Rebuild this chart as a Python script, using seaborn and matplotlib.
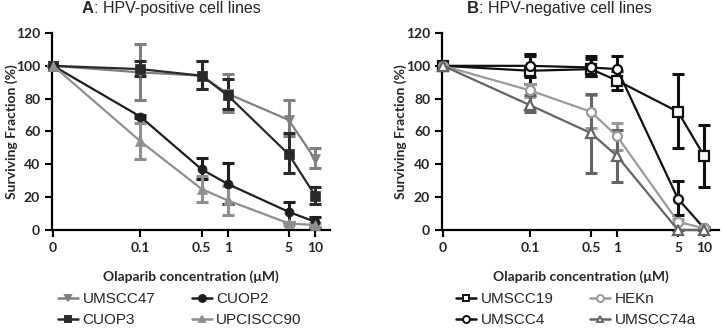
import numpy as np
import pandas as pd
import matplotlib
matplotlib.use("Agg")
import matplotlib.pyplot as plt
from matplotlib.lines import Line2D
import seaborn as sns

# concentrations (uM); 0 is drawn one decade left of 0.1 on the log axis
conc = [0, 0.1, 0.5, 1, 5, 10]
conc_labels = ["0", "0.1", "0.5", "1", "5", "10"]

# panel A: HPV-positive
umscc47 = [100, 96, 94, 83, 67, 43]
umscc47_lo = [100, 79, 86, 72, 57, 38]
umscc47_hi = [100, 113, 103, 95, 79, 50]
cuop3 = [100, 98, 94, 82, 46, 21]
cuop3_lo = [100, 94, 86, 74, 35, 16]
cuop3_hi = [100, 103, 103, 92, 59, 26]
cuop2 = [100, 69, 37, 28, 11, 5]
cuop2_lo = [100, 68, 31, 16, 5, 2]
cuop2_hi = [100, 70, 44, 41, 17, 8]
upciscc90 = [100, 54, 25, 18, 4, 3]
upciscc90_lo = [100, 43, 17, 9, 3, 2]
upciscc90_hi = [100, 65, 33, 27, 5, 4]

# panel B: HPV-negative
umscc19 = [100, 97, 98, 91, 72, 45]
umscc19_lo = [100, 89, 94, 85, 50, 26]
umscc19_hi = [100, 106, 104, 97, 95, 64]
umscc4 = [100, 100, 99, 98, 19, 1]
umscc4_lo = [100, 93, 94, 90, 9, 0]
umscc4_hi = [100, 107, 106, 106, 30, 2]
hekn = [100, 85, 72, 57, 5, 1]
hekn_lo = [100, 81, 62, 49, 4, 0]
hekn_hi = [100, 89, 82, 65, 7, 2]
umscc74a = [100, 76, 59, 45, 0, 0]
umscc74a_lo = [100, 72, 35, 29, 0, 0]
umscc74a_hi = [100, 82, 83, 61, 0, 0]

sns.set_style("ticks")
plt.rcParams["font.family"] = ["Lato", "DejaVu Sans"]

xpos = np.where(np.array(conc) == 0, 0.01, np.array(conc, dtype=float))

panelA = [
    ("UMSCC47", umscc47, umscc47_lo, umscc47_hi, "#808080", "v", True),
    ("CUOP3", cuop3, cuop3_lo, cuop3_hi, "#2a2a2a", "s", True),
    ("CUOP2", cuop2, cuop2_lo, cuop2_hi, "#1e1e1e", "o", True),
    ("UPCISCC90", upciscc90, upciscc90_lo, upciscc90_hi, "#8f8f8f", "^", True),
]
panelB = [
    ("UMSCC19", umscc19, umscc19_lo, umscc19_hi, "#111111", "s", False),
    ("UMSCC4", umscc4, umscc4_lo, umscc4_hi, "#111111", "o", False),
    ("HEKn", hekn, hekn_lo, hekn_hi, "#9a9a9a", "o", False),
    ("UMSCC74a", umscc74a, umscc74a_lo, umscc74a_hi, "#646464", "^", False),
]

fig = plt.figure(figsize=(7.22, 3.32), dpi=100)
axA = fig.add_axes([52 / 722, 1 - 230 / 332, 278 / 722, 197 / 332])
axB = fig.add_axes([442 / 722, 1 - 230 / 332, 277 / 722, 197 / 332])


def draw(ax, series, ylab_x):
    handles = []
    for name, mean, lo, hi, col, mk, filled in series:
        mean = np.array(mean, dtype=float)
        err = [mean - np.array(lo), np.array(hi) - mean]
        ax.errorbar(xpos, mean, yerr=err, fmt="none", ecolor=col,
                    elinewidth=2.2, capsize=4, capthick=2.2, clip_on=False, zorder=2)
        df = pd.DataFrame({"x": xpos, "y": mean})
        sns.lineplot(data=df, x="x", y="y", ax=ax, color=col, marker=mk,
                     markersize=6.5, linewidth=1.6,
                     markerfacecolor=col if filled else "white",
                     markeredgecolor=col, markeredgewidth=1.6 if not filled else 0.5,
                     clip_on=False, zorder=3)
        handles.append(Line2D([], [], color=col, marker=mk, markersize=5,
                              linewidth=1.8,
                              markerfacecolor=col if filled else "white",
                              markeredgecolor=col, markeredgewidth=1.4))
    ax.set_xscale("log")
    ax.set_xlim(0.0097, 14.8)
    ax.set_ylim(0, 120)
    ax.set_xticks(xpos)
    ax.set_xticklabels(conc_labels)
    ax.minorticks_off()
    ax.set_yticks(range(0, 121, 20))
    ax.set_xlabel("Olaparib concentration (\u03bcM)", fontsize=10, fontweight="bold", labelpad=12)
    ax.set_ylabel("Surviving Fraction (%)", fontsize=10, fontweight="bold")
    ax.yaxis.set_label_coords(ylab_x, 0.5)
    ax.tick_params(axis="both", labelsize=10, width=1.5, length=5, color="black")
    for lab in ax.get_xticklabels() + ax.get_yticklabels():
        lab.set_fontweight("bold")
    for s in ["left", "bottom"]:
        ax.spines[s].set_linewidth(1.6)
        ax.spines[s].set_color("black")
    sns.despine(ax=ax)
    return handles


hA = draw(axA, panelA, (18 - 52) / 278)
hB = draw(axB, panelB, (407 - 442) / 277)

for x0, letter, rest in [(82, "A", ": HPV-positive cell lines"),
                         (467, "B", ": HPV-negative cell lines")]:
    t = fig.text(x0 / 722, 1 - 13 / 332, letter, fontsize=12, fontweight="bold",
                 family=["Liberation Sans"], ha="left", va="baseline")
    fig.canvas.draw()
    plt.annotate(rest, xy=(1, 0), xycoords=t, fontsize=11.5,
                 family=["Liberation Sans"], ha="left", va="bottom")

leg_kw = dict(ncol=2, loc="upper left", frameon=False,
              prop={"family": "Liberation Sans", "size": 11},
              handlelength=1.3, handletextpad=0.3, columnspacing=2.4,
              labelspacing=0.45, borderpad=0, borderaxespad=0)
fig.legend(hA, [s[0] for s in panelA], bbox_to_anchor=(58 / 722, 1 - 292 / 332), **leg_kw)
fig.legend(hB, [s[0] for s in panelB], bbox_to_anchor=(456 / 722, 1 - 292 / 332), **leg_kw)

fig.savefig("out.png", dpi=100)
